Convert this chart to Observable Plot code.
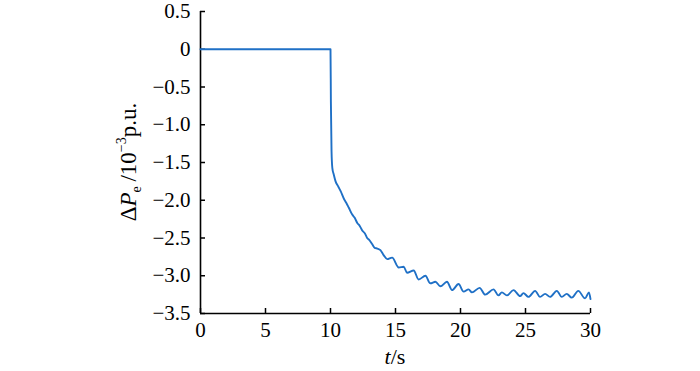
<!DOCTYPE html>
<html>
<head>
<meta charset="utf-8">
<script src="https://cdn.jsdelivr.net/npm/d3@7"></script>
<script src="https://cdn.jsdelivr.net/npm/@observablehq/plot@0.6"></script>
<style>
  html, body { margin: 0; padding: 0; background: #fff; }
  #chart { width: 700px; height: 371px; }
  #chart svg, #chart svg text { font-family: "Liberation Serif", "Times New Roman", serif !important; }
</style>
</head>
<body>
<div id="chart"></div>
<script>
// Time (s)
const tValues = [0, 10.0, 10.03, 10.08, 10.14, 10.25, 10.39, 10.6, 10.78, 11.03, 11.2, 11.41, 11.67, 11.85, 12.06, 12.25, 12.44, 12.65, 12.82, 13.0, 13.2, 13.4, 13.6, 13.84, 14.1, 14.36, 14.74, 15.25, 15.63, 15.89, 16.4, 16.78, 17.3, 17.68, 18.07, 18.45, 18.96, 19.35, 19.85, 20.24, 20.62, 20.88, 21.47, 21.9, 22.54, 22.92, 23.18, 23.57, 24.08, 24.59, 24.84, 25.23, 25.74, 26.12, 26.51, 26.89, 27.41, 27.79, 28.17, 28.56, 29.06, 29.58, 29.88, 30.0];
// Delta Pe (10^-3 p.u.)
const dPeValues = [0, 0, -0.7, -1.35, -1.57, -1.66, -1.75, -1.82, -1.88, -1.98, -2.03, -2.10, -2.19, -2.23, -2.30, -2.34, -2.40, -2.44, -2.50, -2.53, -2.58, -2.63, -2.64, -2.66, -2.73, -2.78, -2.76, -2.89, -2.88, -2.96, -2.93, -3.05, -3.00, -3.10, -3.08, -3.14, -3.08, -3.19, -3.11, -3.21, -3.18, -3.22, -3.16, -3.25, -3.18, -3.26, -3.22, -3.26, -3.19, -3.27, -3.23, -3.28, -3.20, -3.28, -3.24, -3.28, -3.20, -3.28, -3.24, -3.29, -3.20, -3.30, -3.22, -3.31];

const xTicks = [0, 5, 10, 15, 20, 25, 30];
const yTicks = [0.5, 0, -0.5, -1.0, -1.5, -2.0, -2.5, -3.0, -3.5];
const yTickLabels = ["0.5", "0", "\u22120.5", "\u22121.0", "\u22121.5", "\u22122.0", "\u22122.5", "\u22123.0", "\u22123.5"];

const idx = d3.range(tValues.length);
const W = 700, H = 371, mL = 200, mR = 110, mT = 11, mB = 58;
const frameW = W - mL - mR, frameH = H - mT - mB;
const FONT = "'Liberation Serif', 'Times New Roman', serif";

const chart = Plot.plot({
  width: W, height: H,
  marginLeft: mL, marginRight: mR, marginTop: mT, marginBottom: mB,
  style: {fontFamily: FONT, fontSize: "21px", color: "#000", background: "#fff"},
  x: {domain: [0, 30]},
  y: {domain: [-3.5, 0.5]},
  marks: [
    Plot.axisX(xTicks, {tickSize: 0, tickPadding: 9, label: null, fontSize: 21}),
    Plot.axisY(yTicks, {tickSize: 0, tickPadding: 10, label: null, fontSize: 21,
      tickFormat: d => yTickLabels[yTicks.indexOf(d)]}),
    Plot.tickX(xTicks, {x: d => d, insetTop: frameH - 5, stroke: "#000", strokeWidth: 1.5}),
    Plot.tickY(yTicks, {y: d => d, insetRight: frameW - 5, stroke: "#000", strokeWidth: 1.5}),
    Plot.ruleX([0], {stroke: "#000", strokeWidth: 1.6}),
    Plot.ruleY([-3.5], {stroke: "#000", strokeWidth: 1.6}),
    Plot.line(idx, {x: i => tValues[i], y: i => dPeValues[i], stroke: "#1f70c6", strokeWidth: 1.9, curve: "monotone-x"})
  ]
});

const svg = d3.select(chart);
// x axis label
const xl = svg.append("text")
  .attr("x", (mL + W - mR) / 2).attr("y", 364)
  .attr("text-anchor", "middle")
  .attr("font-size", 22)
  .attr("font-family", FONT);
xl.append("tspan").attr("font-style", "italic").text("t");
xl.append("tspan").text("/s");

// y axis label
const yl = svg.append("text")
  .attr("transform", `translate(136,${mT + frameH / 2}) rotate(-90)`)
  .attr("text-anchor", "middle")
  .attr("font-size", 23)
  .attr("font-family", FONT);
yl.append("tspan").text("\u0394");
yl.append("tspan").attr("font-style", "italic").text("P");
yl.append("tspan").attr("font-size", 14).attr("dy", 5).text("e");
yl.append("tspan").attr("dy", -5).text("\u2009/10");
yl.append("tspan").attr("font-size", 14).attr("dy", -10).text("\u22123");
yl.append("tspan").attr("dy", 10).text("p.u.");

document.getElementById("chart").appendChild(chart);
</script>
</body>
</html>
